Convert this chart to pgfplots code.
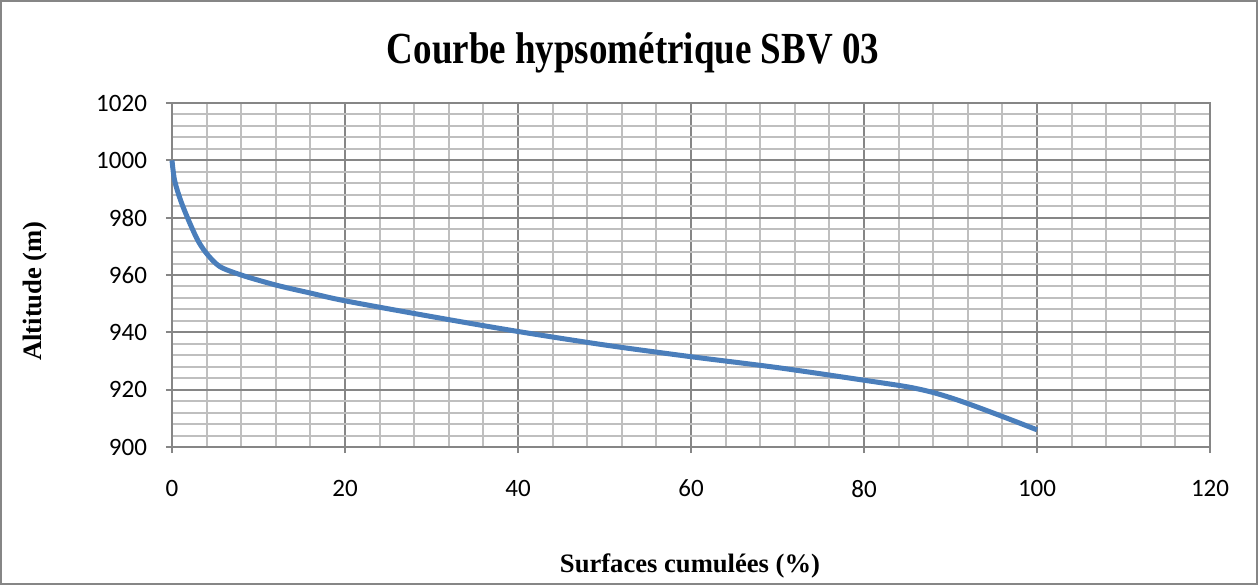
\documentclass[border=0pt]{standalone}
\usepackage{fontspec}
\setmainfont{Liberation Serif}
\newfontfamily\calibri{Carlito}
\usepackage{pgfplots}
\pgfplotsset{compat=1.18}
\definecolor{majgrid}{HTML}{868686}
\definecolor{mingrid}{HTML}{BFBFBF}
\definecolor{curve}{HTML}{4A7EBB}
\begin{document}
\begin{tikzpicture}
\draw[color=majgrid, line width=1pt] (0.5pt,0.5pt) rectangle (628.5pt,292pt);
\begin{axis}[
  at={(86pt,69pt)}, anchor=south west,
  scale only axis, width=519pt, height=172pt,
  xmin=0, xmax=120, ymin=900, ymax=1020,
  xtick={0,20,...,120}, ytick={900,920,...,1020},
  minor x tick num=4, minor y tick num=4,
  grid=both,
  major grid style={color=majgrid, line width=1pt},
  minor grid style={color=mingrid, line width=1pt},
  axis line style={color=majgrid, line width=1pt},
  tick style={color=majgrid, line width=1pt},
  tick align=outside, major tick length=3pt, minor tick length=0pt,
  xtick pos=left, ytick pos=left,
  ticklabel style={font=\calibri\fontsize{12.5}{14}\selectfont, text=black},
  /pgf/number format/assume math mode=true,
  /pgf/number format/1000 sep={},
  xticklabel style={yshift=-10pt},
  yticklabel style={xshift=-6pt},
  clip=false,
]
\addplot[color=curve, line width=2.5pt, smooth, tension=0.5] coordinates {
(0,1000) (0.3,993) (1,986) (2,978.5) (3,972) (4,967.5) (5.5,963) (8,960)
(12,956.5) (16,953.7) (20,951) (30,945.5) (40,940.3) (50,935.6) (60,931.5)
(70,927.7) (80,923.3) (85,921) (88,919) (91,916.2) (95,911.8) (100,906)
};
\end{axis}
\node[font=\bfseries\fontsize{18.5}{22}\selectfont, yscale=1.2] at (316.5pt,266pt) {Courbe hypsométrique SBV 03};
\node[font=\bfseries\fontsize{13.3}{15}\selectfont] at (345pt,9.5pt) {Surfaces cumulées (\%)};
\node[font=\bfseries\fontsize{13.3}{15}\selectfont, rotate=90] at (17.5pt,147pt) {Altitude (m)};
\end{tikzpicture}
\end{document}
